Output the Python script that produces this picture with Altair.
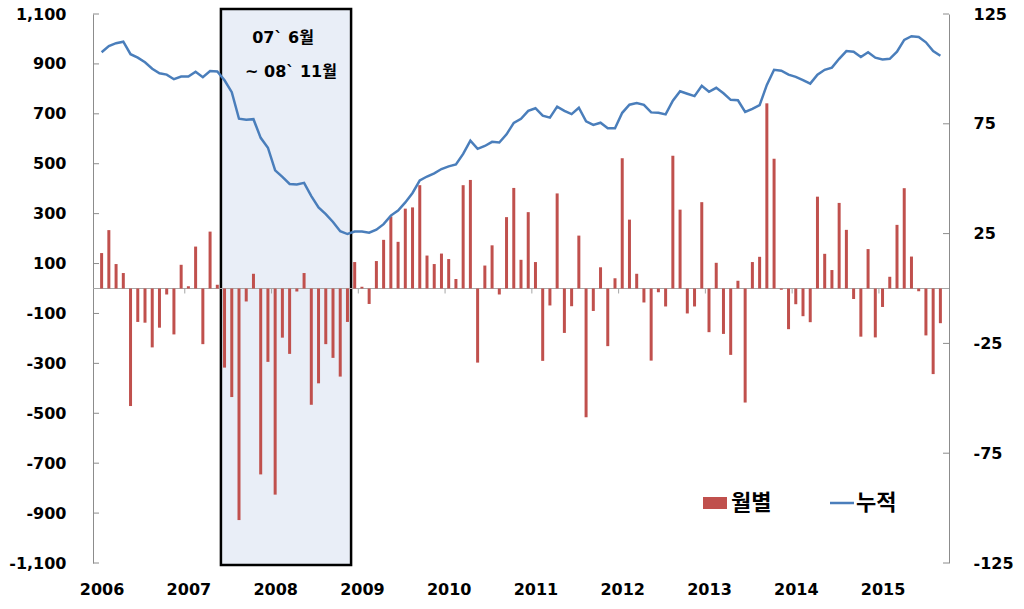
import altair as alt
import pandas as pd

# ---------------- data ----------------
start_year = 2006
monthly = [
    142, 234, 98, 62, -471, -134, -137, -236, -157, -24, -184, 95,        # 2006
    9, 168, -223, 228, 15, -317, -435, -928, -52, 59, -745, -294,         # 2007
    -826, -197, -262, -12, 62, -466, -380, -223, -278, -353, -134, 106,   # 2008
    7, -62, 110, 195, 289, 187, 320, 325, 414, 132, 98, 140,              # 2009
    118, 38, 414, 435, -297, 92, 173, -24, 286, 403, 115, 306,            # 2010
    106, -290, -68, 381, -178, -71, 212, -516, -90, 85, -231, 41,         # 2011
    522, 276, 59, -56, -289, -15, -72, 532, 316, -100, -72, 346,          # 2012
    -175, 103, -182, -266, 31, -457, 106, 127, 742, 520, -5, -163,        # 2013
    -63, -111, -135, 368, 139, 74, 343, 235, -42, -193, 158, -196,        # 2014
    -74, 47, 255, 402, 128, -11, -188, -343, -139,                        # 2015 (Jan-Sep)
]
cumulative = [
    107.6, 110.4, 111.7, 112.4, 106.7, 105.1, 103.0, 100.1, 98.0, 97.4, 95.3, 96.5,
    96.5, 98.7, 96.2, 99.0, 98.8, 94.8, 89.4, 77.3, 76.8, 77.1, 68.6, 64.1,
    53.8, 50.8, 47.6, 47.4, 48.1, 42.1, 36.9, 33.9, 30.3, 26.1, 24.8, 25.9,
    25.9, 25.4, 26.8, 29.3, 33.2, 35.5, 39.2, 43.5, 49.2, 51.0, 52.4, 54.4,
    55.6, 56.5, 61.3, 67.3, 63.6, 64.9, 66.8, 66.5, 70.2, 75.4, 77.3, 80.9,
    82.1, 78.7, 77.8, 82.8, 80.9, 79.4, 82.3, 76.1, 74.5, 75.5, 73.0, 73.0,
    80.0, 83.7, 84.5, 83.6, 80.2, 80.0, 79.3, 85.5, 89.8, 88.7, 87.6, 92.3,
    89.6, 91.4, 88.9, 85.9, 85.7, 80.4, 81.8, 83.5, 92.7, 99.6, 99.2, 97.4,
    96.4, 94.9, 93.3, 97.4, 99.6, 100.6, 104.6, 108.1, 107.8, 105.4, 107.6, 105.1,
    104.3, 104.6, 107.8, 113.2, 114.9, 114.5, 112.1, 108.1, 106.0,
]
years = list(range(2006, 2016))
left_ticks = list(range(-1100, 1101, 200))
right_ticks = [-125, -75, -25, 25, 75, 125]
box_start_month, box_end_month = 17, 35   # 2007-06 .. end of 2008-11
box_label_1 = "07` 6월"
box_label_2 = "~ 08` 11월"
legend_bar = "월별"
legend_line = "누적"

n = len(monthly)
df = pd.DataFrame({"t": [i + 0.5 for i in range(n)], "monthly": monthly, "cum": cumulative})
box_df = pd.DataFrame({"t": [box_start_month], "e": [box_end_month]})
lt_df = pd.DataFrame({"v": left_ticks})
rt_df = pd.DataFrame({"v": right_ticks})
xt_df = pd.DataFrame({"t": [12 * k for k in range(1, len(years))],
                      "y0": [0] * (len(years) - 1),
                      "y1": [-20] * (len(years) - 1)})
one = pd.DataFrame({"a": [0]})

# ---------------- styling ----------------
W, H = 856, 549
RED = "#c0504d"
BLUE = "#4a7ebb"
GREY = "#8c8c8c"
NUMFONT = "DejaVu Sans"
KFONT = "Noto Sans CJK KR"

xscale = alt.Scale(domain=[0, 117], nice=False, zero=False)
yl = alt.Scale(domain=[-1100, 1100], nice=False, zero=False)
yr = alt.Scale(domain=[-125, 125], nice=False, zero=False)

num_expr = "(datum.value < 0 ? '-' : '') + format(abs(datum.value), ',')"

x_axis = alt.Axis(
    values=[12 * k + 0.5 for k in range(len(years))],
    labelExpr=f"'' + ({start_year} + floor(datum.value / 12))",
    domain=False, ticks=False, grid=False, title=None,
    labelFont=NUMFONT, labelFontSize=16, labelFontWeight="bold",
    labelColor="black", labelPadding=18, orient="bottom",
)


def X(field):
    return alt.X(field, type="quantitative", scale=xscale, axis=x_axis)


box = alt.Chart(box_df).mark_rect(
    fill="#e9eef7", stroke="black", strokeWidth=2.5, clip=False
).encode(
    x=X("t"),
    x2="e:Q",
    y=alt.value(-5),
    y2=alt.value(H + 2),
)

zero_rule = alt.Chart(one).mark_rule(color="#a6a6a6", strokeWidth=1).encode(
    x=alt.value(0), x2=alt.value(W), y=alt.Y("a:Q", scale=yl, axis=None)
)

xticks = alt.Chart(xt_df).mark_rule(color="#a6a6a6", strokeWidth=1).encode(
    x=X("t"),
    y=alt.Y("y0:Q", scale=yl, axis=None),
    y2="y1:Q",
)

bars = alt.Chart(df).mark_bar(color=RED, size=3).encode(
    x=X("t"),
    y=alt.Y(
        "monthly:Q",
        scale=yl,
        axis=alt.Axis(
            values=left_ticks, labelExpr=num_expr, orient="left",
            domain=True, domainColor=GREY, domainWidth=1, ticks=False, grid=False,
            title=None, labelFont=NUMFONT, labelFontSize=16, labelFontWeight="bold",
            labelColor="black", labelPadding=27,
        ),
    ),
)

lticks = alt.Chart(lt_df).mark_rule(color=GREY, strokeWidth=1).encode(
    x=alt.value(0), x2=alt.value(6), y=alt.Y("v:Q", scale=yl, axis=None)
)

txt1 = alt.Chart(one).mark_text(
    text=box_label_1, font=f"{NUMFONT}, {KFONT}", fontSize=16, fontWeight="bold",
    color="black", align="center", baseline="middle",
).encode(x=alt.value(190), y=alt.value(24))
txt2 = alt.Chart(one).mark_text(
    text=box_label_2, font=f"{NUMFONT}, {KFONT}", fontSize=16, fontWeight="bold",
    color="black", align="center", baseline="middle",
).encode(x=alt.value(198), y=alt.value(58))

leg_rect = alt.Chart(one).mark_rect(color=RED).encode(
    x=alt.value(610), x2=alt.value(634), y=alt.value(483), y2=alt.value(495)
)
leg_t1 = alt.Chart(one).mark_text(
    text=legend_bar, font=KFONT, fontSize=22, fontWeight="bold", color="black",
    align="left", baseline="middle",
).encode(x=alt.value(638), y=alt.value(489))
leg_line = alt.Chart(one).mark_rule(color=BLUE, strokeWidth=2.5).encode(
    x=alt.value(737), x2=alt.value(761), y=alt.value(489)
)
leg_t2 = alt.Chart(one).mark_text(
    text=legend_line, font=KFONT, fontSize=22, fontWeight="bold", color="black",
    align="left", baseline="middle",
).encode(x=alt.value(763), y=alt.value(489))

line = alt.Chart(df).mark_line(color=BLUE, strokeWidth=2.5).encode(
    x=X("t"),
    y=alt.Y(
        "cum:Q",
        scale=yr,
        axis=alt.Axis(
            values=right_ticks, labelExpr=num_expr, orient="right",
            domain=True, domainColor=GREY, domainWidth=1, ticks=False, grid=False,
            title=None, labelFont=NUMFONT, labelFontSize=16, labelFontWeight="bold",
            labelColor="black", labelPadding=24,
        ),
    ),
)
rticks = alt.Chart(rt_df).mark_rule(color=GREY, strokeWidth=1).encode(
    x=alt.value(W - 6), x2=alt.value(W), y=alt.Y("v:Q", scale=yr, axis=None)
)

chart = (
    alt.layer(box, zero_rule, xticks, bars, lticks, rticks, line,
              txt1, txt2, leg_rect, leg_t1, leg_line, leg_t2)
    .resolve_scale(y="independent")
    .properties(
        width=W, height=H,
        autosize=alt.AutoSizeParams(type="none"),
        padding={"left": 93, "top": 14, "right": 75, "bottom": 46},
        background="white",
    )
    .configure_view(stroke=None)
)

chart.save("out.html", embed_options={"renderer": "svg", "actions": False})
